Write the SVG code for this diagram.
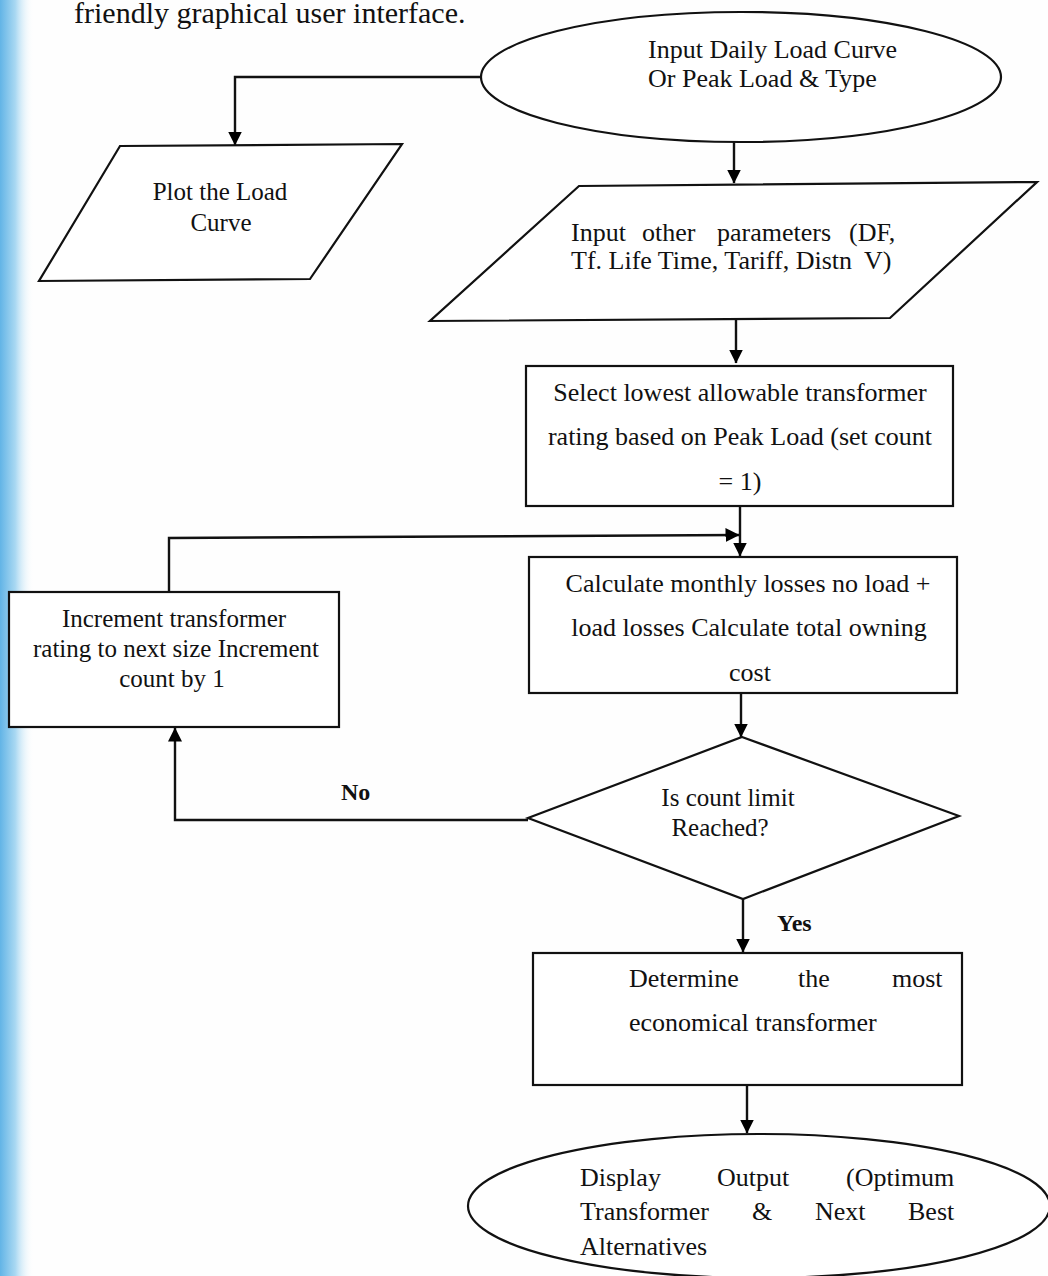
<svg xmlns="http://www.w3.org/2000/svg" width="1048" height="1276" viewBox="0 0 1048 1276">
<defs>
<linearGradient id="strip" x1="0" y1="0" x2="1" y2="0">
<stop offset="0" stop-color="#62b4e6"/>
<stop offset="0.45" stop-color="#a9d8f2"/>
<stop offset="1" stop-color="#ffffff" stop-opacity="0"/>
</linearGradient>
<marker id="arr" viewBox="0 0 14 14" refX="13.5" refY="7" markerWidth="14" markerHeight="14" markerUnits="userSpaceOnUse" orient="auto">
<path d="M0,0 L14,7 L0,14 Z" fill="#000"/>
</marker>
<style>
.s{fill:#fff;stroke:#111;stroke-width:2.2}
.c{fill:none;stroke:#111;stroke-width:2.4;marker-end:url(#arr)}
text{font-family:"Liberation Serif","Times New Roman",serif;font-size:26px;fill:#111}
.n{font-size:25px}
.m{text-anchor:middle}
.b{font-weight:bold;font-size:24px}
.h{font-size:30px}
</style>
</defs>
<rect width="1048" height="1276" fill="#fefefe"/>
<rect x="0" y="0" width="34" height="1276" fill="url(#strip)"/>
<text class="h" x="74" y="23">friendly graphical user interface.</text>

<g id="connectors">
<path class="c" d="M481,77 H235 V145"/>
<path class="c" d="M734,142 V183"/>
<path class="c" d="M736,320 V363"/>
<path class="c" d="M740,506 V556"/>
<path class="c" d="M169,592 V538 L739,535"/>
<path class="c" d="M741,693 V737"/>
<path class="c" d="M528,820 H175 V728"/>
<path class="c" d="M743,899 V952"/>
<path class="c" d="M747,1085 V1133"/>
</g>

<g id="start">
<ellipse class="s" cx="741" cy="77" rx="260" ry="65"/>
<text x="648" y="58">Input Daily Load Curve</text>
<text x="648" y="87">Or Peak Load &amp; Type</text>
</g>

<g id="plot">
<polygon class="s" points="120,146 402,144 310,279 39,281"/>
<text class="m n" x="220" y="200">Plot the Load</text>
<text class="m n" x="221" y="231">Curve</text>
</g>

<g id="params">
<polygon class="s" points="579,186 1037,182 890,318 430,321"/>
<text y="241"><tspan x="571">Input</tspan><tspan x="642">other</tspan><tspan x="717">parameters</tspan><tspan x="849">(DF,</tspan></text>
<text y="269"><tspan x="571">Tf. Life Time, Tariff, Distn</tspan><tspan x="864">V)</tspan></text>
</g>

<g id="select">
<rect class="s" x="526" y="366" width="427" height="140"/>
<text class="m" x="740" y="401">Select lowest allowable transformer</text>
<text class="m" x="740" y="445">rating based on Peak Load (set count</text>
<text class="m" x="740" y="490">= 1)</text>
</g>

<g id="calc">
<rect class="s" x="529" y="557" width="428" height="136"/>
<text class="m" x="748" y="592">Calculate monthly losses no load +</text>
<text class="m" x="749" y="636">load losses Calculate total owning</text>
<text class="m" x="750" y="681">cost</text>
</g>

<g id="increment">
<rect class="s" x="9" y="592" width="330" height="135"/>
<text class="m n" x="174" y="627">Increment transformer</text>
<text class="m n" x="176" y="657">rating to next size Increment</text>
<text class="m n" x="172" y="687">count by 1</text>
</g>

<g id="decision">
<polygon class="s" points="742,737 959,816 743,899 528,818"/>
<text class="m n" x="728" y="806">Is count limit</text>
<text class="m n" x="720" y="836">Reached?</text>
</g>

<text class="b" x="341" y="800">No</text>
<text class="b" x="777" y="931">Yes</text>

<g id="determine">
<rect class="s" x="533" y="953" width="429" height="132"/>
<text y="987"><tspan x="629">Determine</tspan><tspan x="798">the</tspan><tspan x="892">most</tspan></text>
<text x="629" y="1031">economical transformer</text>
</g>

<g id="display">
<ellipse class="s" cx="759" cy="1206" rx="291" ry="72"/>
<text y="1186"><tspan x="580">Display</tspan><tspan x="717">Output</tspan><tspan x="846">(Optimum</tspan></text>
<text y="1220"><tspan x="580">Transformer</tspan><tspan x="752">&amp;</tspan><tspan x="815">Next</tspan><tspan x="908">Best</tspan></text>
<text x="580" y="1255">Alternatives</text>
</g>
</svg>
